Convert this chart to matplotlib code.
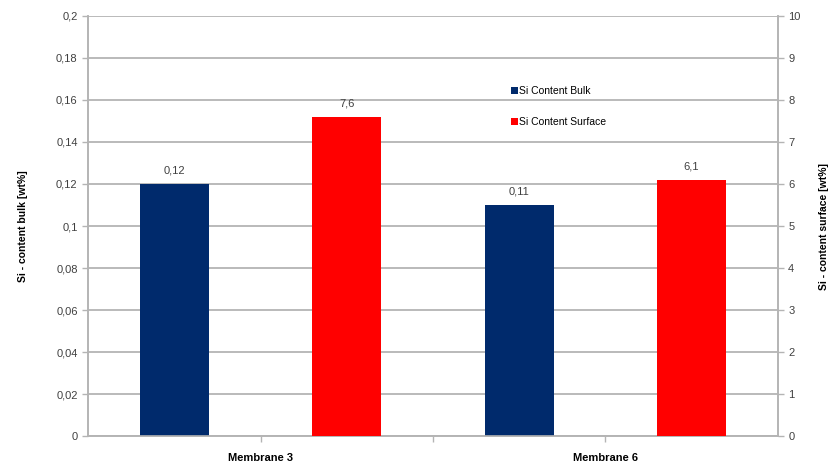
import numpy as np
import matplotlib
matplotlib.use("Agg")
import matplotlib.pyplot as plt
from matplotlib.ticker import FuncFormatter, FixedLocator

plt.rcParams['font.family'] = ['Liberation Sans', 'DejaVu Sans']

membranes = ["Membrane 3", "Membrane 6"]
bulk = [0.12, 0.11]          # wt%, left axis
surface = [7.6, 6.1]         # wt%, right axis
bulk_labels = ["0,12", "0,11"]
surface_labels = ["7,6", "6,1"]

NAVY = "#002a6c"
RED = "#ff0000"
GRID = "#b4b4b4"
TXT = "#404040"

def comma(v, pos):
    return ("%g" % v).replace(".", ",")

fig = plt.figure(figsize=(8.31, 4.67), dpi=100)
ax = fig.add_axes([0.106, 0.066, 0.830, 0.900])
ax2 = ax.twinx()

x = np.arange(len(membranes))
w = 0.2

ax.bar(x - 0.25, bulk, w, color=NAVY, zorder=3, label="Si Content Bulk")
ax2.bar(x + 0.25, surface, w, color=RED, zorder=3, label="Si Content Surface")

for xi, v, t in zip(x, bulk, bulk_labels):
    ax.text(xi - 0.25, v + 0.004, t, ha="center", va="bottom", fontsize=8, color=TXT)
for xi, v, t in zip(x, surface, surface_labels):
    ax2.text(xi + 0.25, v + 0.2, t, ha="center", va="bottom", fontsize=8, color=TXT)

ax.set_xlim(-0.5, 1.5)
ax.set_ylim(0, 0.2)
ax2.set_ylim(0, 10)
ax.set_yticks(np.arange(0, 0.2001, 0.02))
ax2.set_yticks(np.arange(0, 11, 1))
ax.yaxis.set_major_formatter(FuncFormatter(comma))
ax2.yaxis.set_major_formatter(FuncFormatter(comma))

ax.set_xticks(x)
ax.set_xticklabels(membranes, fontsize=8.5, fontweight="bold")
ax.xaxis.set_minor_locator(FixedLocator([0.5]))

ax.grid(axis="y", color=GRID, linewidth=1.3, zorder=0)
ax.set_axisbelow(True)

for a in (ax, ax2):
    a.spines["top"].set_visible(False)
    for s in ("left", "right", "bottom"):
        a.spines[s].set_color(GRID)
        a.spines[s].set_linewidth(1.2)
    a.tick_params(axis="both", which="both", colors=GRID, labelcolor=TXT,
                  labelsize=8, length=4, width=1)
ax.tick_params(axis="x", pad=8, labelcolor="black")

ax.set_ylabel("Si - content bulk [wt%]", fontsize=7.5, fontweight="bold", labelpad=20)
ax2.set_ylabel("Si - content surface [wt%]", fontsize=7.5, fontweight="bold", labelpad=13)

h1, l1 = ax.get_legend_handles_labels()
h2, l2 = ax2.get_legend_handles_labels()
ax2.legend(h1 + h2, l1 + l2, loc="upper left", bbox_to_anchor=(0.6, 0.855),
           frameon=False, fontsize=7.5, handlelength=0.6, handleheight=0.6,
           handletextpad=0.1, labelspacing=2.0)

fig.savefig("out.png", dpi=100)
